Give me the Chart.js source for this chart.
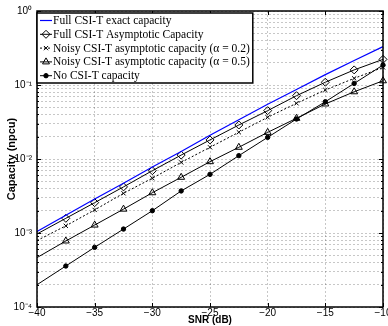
<!DOCTYPE html>
<html lang="en">
<head>
<meta charset="UTF-8">
<title>Capacity vs SNR</title>
<script src="https://cdn.jsdelivr.net/npm/chart.js@4"></script>
<style>
    html, body { margin: 0; padding: 0; background: #fff; }
    canvas { display: block; }
</style>
</head>
<body>
<canvas id="capacityChart" width="388" height="326"></canvas>
<script>
    // SNR points (dB) and capacities (npcu)
    const snr = [-40, -37.5, -35, -32.5, -30, -27.5, -25, -22.5, -20, -17.5, -15, -12.5, -10];
    const fullExact = [1.05e-3, 1.74e-3, 2.88e-3, 4.7e-3, 7.8e-3, 0.0126, 0.0209, 0.034, 0.055, 0.087, 0.138, 0.214, 0.33];
    const fullAsym = [9.7e-4, 1.58e-3, 2.57e-3, 4.2e-3, 6.95e-3, 0.0113, 0.0181, 0.0288, 0.045, 0.0717, 0.109, 0.160, 0.222];
    const noisy02 = [7.9e-4, 1.25e-3, 2.05e-3, 3.44e-3, 5.5e-3, 9.0e-3, 0.0144, 0.023, 0.0366, 0.0566, 0.0856, 0.123, 0.173];
    const noisy05 = [4.65e-4, 7.8e-4, 1.28e-3, 2.1e-3, 3.5e-3, 5.66e-3, 9.2e-3, 0.0144, 0.0229, 0.0355, 0.0554, 0.081, 0.114];
    const noCsi = [2.0e-4, 3.58e-4, 6.4e-4, 1.13e-3, 2.0e-3, 3.7e-3, 6.2e-3, 0.0111, 0.0196, 0.0347, 0.0594, 0.105, 0.186];

    const seriesNames = [
        'Full CSI-T exact capacity',
        'Full CSI-T Asymptotic Capacity',
        'Noisy CSI-T asymptotic capacity (\u03b1 = 0.2)',
        'Noisy CSI-T asymptotic capacity (\u03b1 = 0.5)',
        'No CSI-T capacity'
    ];

    const xTicks = [-40, -35, -30, -25, -20, -15, -10];
    const yDecades = [1e-4, 1e-3, 1e-2, 1e-1, 1];
    const yDecadeLabels = ['10\u207b\u2074', '10\u207b\u00b3', '10\u207b\u00b2', '10\u207b\u00b9', '10\u2070'];

    const sansFont = '"Liberation Sans", Arial, Helvetica, sans-serif';
    const serifFont = '"Liberation Serif", "Times New Roman", serif';

    function toPoints(values) {
        return snr.map((x, i) => ({ x: x, y: values[i] }));
    }

    // markers on every point except the first one at -40 dB
    function markerSizes(r) {
        return snr.map((x, i) => (i === 0 ? 0 : r));
    }

    function isDecade(v) {
        return yDecades.some(d => Math.abs(v - d) / d < 1e-6);
    }

    // frame, inward tick marks and the boxed legend
    const frameAndLegend = {
        id: 'frameAndLegend',
        afterDraw(chart) {
            const ctx = chart.ctx;
            const { left, right, top, bottom } = chart.chartArea;
            const xs = chart.scales.x, ys = chart.scales.y;
            ctx.save();
            ctx.strokeStyle = '#000';
            ctx.lineWidth = 1;
            ctx.beginPath();
            ys.ticks.forEach(t => {
                const py = Math.round(ys.getPixelForValue(t.value)) + 0.5;
                const len = isDecade(t.value) ? 4 : 2;
                ctx.moveTo(left, py); ctx.lineTo(left + len, py);
                ctx.moveTo(right, py); ctx.lineTo(right - len, py);
            });
            xs.ticks.forEach(t => {
                const px = Math.round(xs.getPixelForValue(t.value)) + 0.5;
                ctx.moveTo(px, bottom); ctx.lineTo(px, bottom - 4);
                ctx.moveTo(px, top); ctx.lineTo(px, top + 4);
            });
            ctx.stroke();

            ctx.lineWidth = 1.5;
            ctx.strokeRect(left, top, right - left, bottom - top);

            // legend
            const sets = chart.data.datasets;
            ctx.font = '11.5px ' + serifFont;
            const rowH = 13.8;
            const x0 = left, y0 = top + 2;
            const textX = x0 + 16;
            const maxW = Math.max(...sets.map(d => ctx.measureText(d.label).width));
            const w = textX - x0 + maxW + 3;
            const h = rowH * sets.length + 1;
            ctx.fillStyle = '#fff';
            ctx.fillRect(x0, y0, w, h);
            ctx.lineWidth = 1.5;
            ctx.strokeStyle = '#000';
            ctx.strokeRect(x0, y0, w, h);

            sets.forEach((ds, i) => {
                const cy = y0 + 7.5 + i * rowH;
                ctx.beginPath();
                ctx.setLineDash(ds.borderDash || []);
                ctx.lineWidth = ds.borderWidth;
                ctx.strokeStyle = ds.borderColor;
                ctx.moveTo(x0 + 3, cy);
                ctx.lineTo(x0 + 15, cy);
                ctx.stroke();
                ctx.setLineDash([]);
                if (ds.legendMarker) {
                    ctx.fillStyle = ds.pointBackgroundColor;
                    ctx.strokeStyle = ds.pointBorderColor;
                    ctx.lineWidth = 1;
                    Chart.helpers.drawPoint(ctx, {
                        pointStyle: ds.pointStyle, radius: ds.legendMarker, borderWidth: 1, rotation: 0
                    }, x0 + 9, cy);
                }
                ctx.fillStyle = '#000';
                ctx.textBaseline = 'middle';
                ctx.textAlign = 'left';
                ctx.fillText(ds.label, textX, cy + 0.5);
            });
            ctx.restore();
        }
    };

    const ctx = document.getElementById('capacityChart').getContext('2d');
    new Chart(ctx, {
        type: 'line',
        data: {
            datasets: [
                {
                    label: seriesNames[0],
                    data: toPoints(fullExact),
                    borderColor: '#0000ff',
                    borderWidth: 1.2,
                    pointRadius: 0
                },
                {
                    label: seriesNames[1],
                    data: toPoints(fullAsym),
                    borderColor: '#000',
                    borderWidth: 1,
                    pointStyle: 'rectRot',
                    pointRadius: markerSizes(4),
                    legendMarker: 4,
                    pointBackgroundColor: 'rgba(0,0,0,0)',
                    pointBorderColor: '#000',
                    pointBorderWidth: 1
                },
                {
                    label: seriesNames[2],
                    data: toPoints(noisy02),
                    borderColor: '#000',
                    borderWidth: 1,
                    borderDash: [2, 2],
                    pointStyle: 'crossRot',
                    pointRadius: markerSizes(3),
                    legendMarker: 3,
                    pointBackgroundColor: 'rgba(0,0,0,0)',
                    pointBorderColor: '#000',
                    pointBorderWidth: 1
                },
                {
                    label: seriesNames[3],
                    data: toPoints(noisy05),
                    borderColor: '#000',
                    borderWidth: 1,
                    pointStyle: 'triangle',
                    pointRadius: markerSizes(4),
                    legendMarker: 4,
                    pointBackgroundColor: 'rgba(0,0,0,0)',
                    pointBorderColor: '#000',
                    pointBorderWidth: 1
                },
                {
                    label: seriesNames[4],
                    data: toPoints(noCsi),
                    borderColor: '#000',
                    borderWidth: 1,
                    pointStyle: 'circle',
                    pointRadius: markerSizes(2.2),
                    legendMarker: 2.2,
                    pointBackgroundColor: '#000',
                    pointBorderColor: '#000',
                    pointBorderWidth: 1
                }
            ]
        },
        options: {
            responsive: false,
            animation: false,
            clip: false,
            layout: { padding: { left: 0, right: 5, top: 11, bottom: 0 } },
            plugins: {
                legend: { display: false },
                tooltip: { enabled: false }
            },
            scales: {
                x: {
                    type: 'linear',
                    min: -40,
                    max: -10,
                    afterBuildTicks: s => { s.ticks = xTicks.map(v => ({ value: v })); },
                    afterFit: s => { s.height = 19; s.paddingLeft = 0; s.paddingRight = 0; },
                    grid: { color: 'rgba(0,0,0,0.22)', lineWidth: 1, drawTicks: false },
                    border: { display: false, dash: [2, 2] },
                    ticks: {
                        padding: 0,
                        autoSkip: false,
                        maxRotation: 0,
                        color: '#000',
                        font: { family: sansFont, size: 10 },
                        callback: v => String(v).replace('-', '\u2212')
                    },
                    title: {
                        display: true,
                        text: 'SNR (dB)',
                        color: '#000',
                        font: { family: sansFont, size: 10, weight: 'bold' },
                        padding: { top: 0, bottom: 0 }
                    }
                },
                y: {
                    type: 'logarithmic',
                    min: 1e-4,
                    max: 1,
                    afterBuildTicks: s => {
                        const t = [];
                        for (let d = 0; d < yDecades.length - 1; d++) {
                            for (let k = 1; k <= 9; k++) t.push({ value: yDecades[d] * k });
                        }
                        t.push({ value: yDecades[yDecades.length - 1] });
                        s.ticks = t;
                    },
                    afterFit: s => { s.width = 37; s.paddingTop = 0; s.paddingBottom = 0; },
                    grid: { color: 'rgba(0,0,0,0.22)', lineWidth: 1, drawTicks: false },
                    border: { display: false, dash: [2, 2] },
                    ticks: {
                        padding: 5,
                        autoSkip: false,
                        color: '#000',
                        font: { family: sansFont, size: 10 },
                        callback: v => {
                            const i = yDecades.findIndex(d => Math.abs(v - d) / d < 1e-6);
                            return i >= 0 ? yDecadeLabels[i] : '';
                        }
                    },
                    title: {
                        display: true,
                        text: 'Capacity (npcu)',
                        color: '#000',
                        font: { family: sansFont, size: 11, weight: 'bold' },
                        padding: { top: 5.5, bottom: 0 }
                    }
                }
            }
        },
        plugins: [frameAndLegend]
    });
</script>
</body>
</html>
